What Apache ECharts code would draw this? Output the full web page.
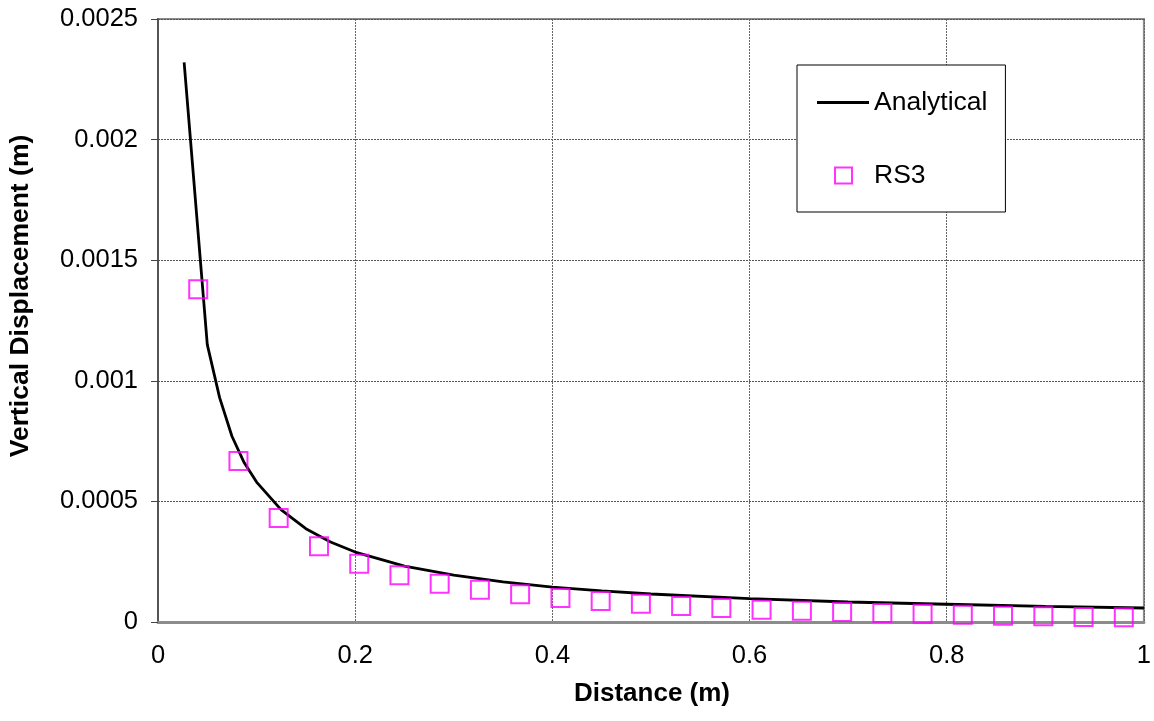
<!DOCTYPE html>
<html>
<head>
<meta charset="utf-8">
<script src="https://cdn.jsdelivr.net/npm/echarts@6/dist/echarts.min.js"></script>
<style>html,body{margin:0;padding:0;background:#fff}#c{width:1154px;height:721px}</style>
</head>
<body>
<div id="c"></div>
<script>
const analyticalX = [0.0265, 0.05, 0.0625, 0.075, 0.0875, 0.1, 0.125, 0.15, 0.175, 0.2, 0.25, 0.3, 0.35, 0.4, 0.45, 0.5, 0.6, 0.7, 0.8, 0.9, 1.0];
const analyticalY = [0.00232, 0.00115, 0.00093, 0.00077, 0.00066, 0.00058, 0.000465, 0.000387, 0.000332, 0.00029, 0.000232, 0.000194, 0.000166, 0.000145, 0.000129, 0.000116, 0.0000967, 0.0000829, 0.0000735, 0.0000645, 0.000058];
const rs3X = [0.0408, 0.0816, 0.1224, 0.1633, 0.2041, 0.2449, 0.2857, 0.3265, 0.3673, 0.4082, 0.449, 0.4898, 0.5306, 0.5714, 0.6122, 0.6531, 0.6939, 0.7347, 0.7755, 0.8163, 0.8571, 0.898, 0.9388, 0.9796];
const rs3Y = [0.00138, 0.000667, 0.000431, 0.000314, 0.000242, 0.000194, 0.000159, 0.000134, 0.000115, 0.0000995, 0.0000871, 0.000076, 0.0000663, 0.000058, 0.0000511, 0.000047, 0.0000415, 0.0000373, 0.0000346, 0.0000304, 0.0000263, 0.0000235, 0.0000207, 0.0000194];
const xTicks = {min: 0, max: 1, interval: 0.2};
const yTicks = {min: 0, max: 0.0025, interval: 0.0005};
const xTitle = 'Distance (m)';
const yTitle = 'Vertical Displacement (m)';

const FONT = '"Liberation Sans", Arial, sans-serif';
const chart = echarts.init(document.getElementById('c'), null, {renderer: 'canvas'});
chart.setOption({
  animation: false,
  backgroundColor: '#fff',
  textStyle: {fontFamily: FONT, color: '#000'},
  grid: {left: 158, right: 7, top: 19, bottom: 99, show: true, borderColor: '#8c8c8c', borderWidth: 2, backgroundColor: 'transparent'},
  xAxis: {
    type: 'value', min: xTicks.min, max: xTicks.max, interval: xTicks.interval,
    axisLine: {show: true, onZero: false, lineStyle: {color: '#8c8c8c', width: 3}},
    axisTick: {show: false},
    axisLabel: {color: '#000', fontSize: 25.5, fontFamily: FONT, margin: 21, formatter: v => String(+v.toFixed(1))},
    splitLine: {show: true, lineStyle: {color: '#666', type: [2, 1], width: 1}}
  },
  yAxis: {
    type: 'value', min: yTicks.min, max: yTicks.max, interval: yTicks.interval,
    axisLine: {show: true, onZero: false, lineStyle: {color: '#555', width: 2}},
    axisTick: {show: true, length: 7, lineStyle: {color: '#444', width: 1}},
    axisLabel: {color: '#000', fontSize: 25.5, fontFamily: FONT, margin: 20, formatter: v => String(+v.toFixed(4))},
    splitLine: {show: true, lineStyle: {color: '#555', type: [2, 1], width: 1}}
  },
  legend: {
    orient: 'vertical', left: 797, top: 65,
    padding: [24, 18, 23, 19], itemGap: 46, itemWidth: 52, itemHeight: 18,
    backgroundColor: '#fff', borderColor: '#000', borderWidth: 1, borderRadius: 0,
    textStyle: {fontSize: 26.5, fontFamily: FONT, color: '#000'},
    data: [
      {name: 'Analytical', icon: 'path://M0,7.5 L52,7.5 L52,10.5 L0,10.5 Z M0,0 M52,18', itemStyle: {color: '#000', borderWidth: 0}},
      {name: 'RS3', icon: 'path://M0,0 M52,18 M18,1 L35,1 L35,17 L18,17 Z', itemStyle: {color: 'transparent', borderColor: '#ff00ff', borderWidth: 2}}
    ]
  },
  series: [
    {
      name: 'Analytical', type: 'line', data: analyticalX.map((x, i) => [x, analyticalY[i]]),
      symbol: 'none', smooth: false, lineStyle: {color: '#000', width: 2.8}, itemStyle: {color: '#000'}, z: 3
    },
    {
      name: 'RS3', type: 'scatter', data: rs3X.map((x, i) => [x, rs3Y[i]]),
      symbol: 'rect', symbolSize: 18,
      itemStyle: {color: 'transparent', borderColor: '#ff00ff', borderWidth: 2}, z: 4
    }
  ],
  graphic: [
    {type: 'text', x: 652, y: 694, style: {text: xTitle, font: 'bold 26px ' + FONT, fill: '#000', textAlign: 'center', textVerticalAlign: 'middle'}},
    {type: 'text', x: 21, y: 296, rotation: Math.PI / 2, style: {text: yTitle, font: 'bold 26.5px ' + FONT, fill: '#000', textAlign: 'center', textVerticalAlign: 'middle'}}
  ]
});
</script>
</body>
</html>
